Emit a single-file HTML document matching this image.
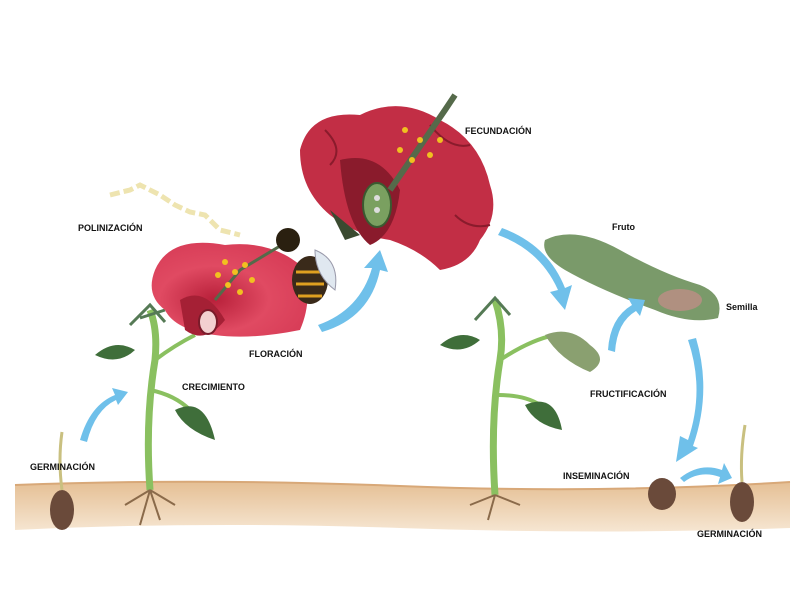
<!DOCTYPE html>
<html><head><meta charset="utf-8"><style>
html,body{margin:0;padding:0;background:#fff;}
svg{display:block}
text{font-family:"Liberation Sans",sans-serif;font-weight:bold;font-size:9px;fill:#111}
</style></head><body>
<svg width="800" height="600" viewBox="0 0 800 600">
<defs>
<linearGradient id="soil" x1="0" y1="0" x2="0" y2="1"><stop offset="0" stop-color="#e5bf94"/><stop offset="1" stop-color="#f6e6d2"/></linearGradient>
<radialGradient id="fl" cx="0.4" cy="0.6" r="0.7"><stop offset="0" stop-color="#b8203a"/><stop offset="0.5" stop-color="#e04a62"/><stop offset="1" stop-color="#d63a55"/></radialGradient>
</defs>
<rect width="800" height="600" fill="#fff"/>
<!-- soil -->
<path d="M15,485 Q200,478 400,486 T790,482 L790,528 Q600,535 400,528 T15,530 Z" fill="url(#soil)"/>
<path d="M15,485 Q200,478 400,486 T790,482" stroke="#d8a878" stroke-width="2" fill="none"/>

<!-- left germinating seed -->
<ellipse cx="62" cy="510" rx="12" ry="20" fill="#6a4a3a"/>
<path d="M62,490 Q58,460 62,432" stroke="#c9c080" stroke-width="3" fill="none"/>

<!-- left plant -->
<path d="M150,490 Q145,420 155,360 Q158,330 150,310" stroke="#8ac060" stroke-width="7" fill="none"/>
<path d="M155,360 Q175,345 195,335" stroke="#8ac060" stroke-width="4" fill="none"/>
<path d="M150,390 Q175,395 190,410" stroke="#8ac060" stroke-width="4" fill="none"/>
<path d="M95,355 Q115,338 135,350 Q118,366 95,355Z" fill="#3f6e3a"/>
<path d="M175,410 Q205,395 215,440 Q185,430 175,410Z" fill="#3f6e3a"/>
<path d="M130,325 L150,305 L165,322 M140,318 L165,310" stroke="#557a55" stroke-width="3" fill="none"/>
<path d="M150,490 L125,505 M150,490 L175,505 M150,490 L140,525 M150,490 L160,520" stroke="#8a6a4a" stroke-width="2" fill="none"/>

<!-- left flower -->
<path d="M155,270 Q170,235 225,245 Q270,240 300,265 Q315,295 300,330 Q250,340 215,335 Q175,330 165,310 Q145,295 155,270Z" fill="url(#fl)"/>
<path d="M180,300 Q205,285 225,320 Q205,345 185,330Z" fill="#a52035"/>
<ellipse cx="208" cy="322" rx="9" ry="12" fill="#f3d0d0" stroke="#7a1b2a" stroke-width="2"/>
<path d="M215,300 L240,270 L290,240" stroke="#556a4a" stroke-width="3" fill="none"/>
<g fill="#f2c020"><circle cx="225" cy="262" r="3"/><circle cx="235" cy="272" r="3"/><circle cx="245" cy="265" r="3"/><circle cx="228" cy="285" r="3"/><circle cx="252" cy="280" r="3"/><circle cx="240" cy="292" r="3"/><circle cx="218" cy="275" r="3"/></g>
<!-- bee -->
<ellipse cx="310" cy="280" rx="18" ry="24" fill="#3a2a1a"/>
<path d="M296,272 L324,272 M296,284 L324,284 M298,296 L322,296" stroke="#e0a020" stroke-width="3"/>
<circle cx="288" cy="240" r="12" fill="#2a2010"/>
<path d="M315,250 Q340,260 335,290 Q315,275 315,250Z" fill="#e0e8f0" stroke="#99a" stroke-width="1"/>

<!-- pollen clouds -->
<path d="M110,195 L130,190 L140,185 L160,195 L175,205 L190,212 L205,215 L220,230 L240,235" stroke="#eee4b0" stroke-width="5" fill="none" stroke-dasharray="10 4"/>

<!-- big flower -->
<path d="M300,150 Q310,110 360,115 Q400,95 440,120 Q480,140 490,185 Q500,215 480,240 Q470,265 440,270 Q420,250 390,240 Q355,235 330,215 Q300,190 300,150Z" fill="#c22e45"/>
<path d="M325,130 Q345,150 330,165 M430,125 Q450,150 470,145 M455,215 Q470,230 490,225" stroke="#8a1b2c" stroke-width="2" fill="none"/>
<path d="M340,160 Q380,150 400,190 Q395,235 370,245 Q345,225 340,160Z" fill="#8a1b2c"/>
<path d="M330,210 L360,235 L345,240Z" fill="#3a4a30"/>
<ellipse cx="377" cy="205" rx="14" ry="22" fill="#7aa060" stroke="#3a5a30" stroke-width="2"/>
<circle cx="377" cy="198" r="3" fill="#ddd"/><circle cx="377" cy="210" r="3" fill="#ddd"/>
<path d="M390,190 L445,110 L455,95" stroke="#556a4a" stroke-width="6" fill="none"/>
<g fill="#f0c020"><circle cx="405" cy="130" r="3"/><circle cx="420" cy="140" r="3"/><circle cx="430" cy="155" r="3"/><circle cx="412" cy="160" r="3"/><circle cx="440" cy="140" r="3"/><circle cx="400" cy="150" r="3"/></g>

<!-- right plant -->
<path d="M495,495 Q490,420 500,360 Q505,330 495,300" stroke="#8ac060" stroke-width="7" fill="none"/>
<path d="M500,360 Q530,340 555,335" stroke="#8ac060" stroke-width="4" fill="none"/>
<path d="M498,395 Q525,395 540,405" stroke="#8ac060" stroke-width="4" fill="none"/>
<path d="M440,345 Q460,328 480,340 Q462,356 440,345Z" fill="#3f6e3a"/>
<path d="M525,405 Q555,392 562,430 Q535,425 525,405Z" fill="#3f6e3a"/>
<path d="M475,320 L495,298 L510,315" stroke="#557a55" stroke-width="3" fill="none"/>
<path d="M545,335 Q570,325 590,345 Q610,360 590,372 Q560,360 545,335Z" fill="#8aa070"/>
<path d="M495,495 L470,505 M495,495 L520,505 M495,495 L488,520" stroke="#8a6a4a" stroke-width="2" fill="none"/>

<!-- fruit pod -->
<path d="M545,240 Q575,225 620,250 Q665,275 700,285 Q725,295 718,318 Q690,325 655,310 Q600,290 565,270 Q540,255 545,240Z" fill="#7a9a6a"/>
<ellipse cx="680" cy="300" rx="22" ry="11" fill="#b09080"/>

<!-- bottom right seeds -->
<ellipse cx="662" cy="494" rx="14" ry="16" fill="#6a4a3a"/>
<ellipse cx="742" cy="502" rx="12" ry="20" fill="#6a4a3a"/>
<path d="M742,482 Q740,455 745,425" stroke="#c9c080" stroke-width="3" fill="none"/>

<!-- blue arrows -->
<g fill="#6fc0ea">
<path d="M80,440 Q90,405 115,395 L112,388 L128,392 L118,405 L116,400 Q95,410 87,442Z"/>
<path d="M318,325 Q360,310 372,268 L364,268 L380,250 L388,272 L380,270 Q370,318 322,332Z"/>
<path d="M498,235 Q540,250 558,290 L550,292 L565,310 L572,285 L565,288 Q548,245 502,228Z"/>
<path d="M608,350 Q610,318 632,305 L628,298 L645,300 L640,316 L636,311 Q617,322 615,352Z"/>
<path d="M688,340 Q705,390 688,440 L680,436 L676,462 L698,448 L693,446 Q712,392 696,338Z"/>
<path d="M680,478 Q700,462 722,470 L724,463 L732,478 L718,484 L720,477 Q700,470 684,482Z"/>
</g>

<!-- labels -->
<text x="78" y="231">POLINIZACIÓN</text>
<text x="465" y="134">FECUNDACIÓN</text>
<text x="612" y="230" font-size="8">Fruto</text>
<text x="726" y="310" font-size="8">Semilla</text>
<text x="249" y="357">FLORACIÓN</text>
<text x="182" y="390">CRECIMIENTO</text>
<text x="590" y="397">FRUCTIFICACIÓN</text>
<text x="30" y="470">GERMINACIÓN</text>
<text x="563" y="479">INSEMINACIÓN</text>
<text x="697" y="537">GERMINACIÓN</text>
</svg>
</body></html>
